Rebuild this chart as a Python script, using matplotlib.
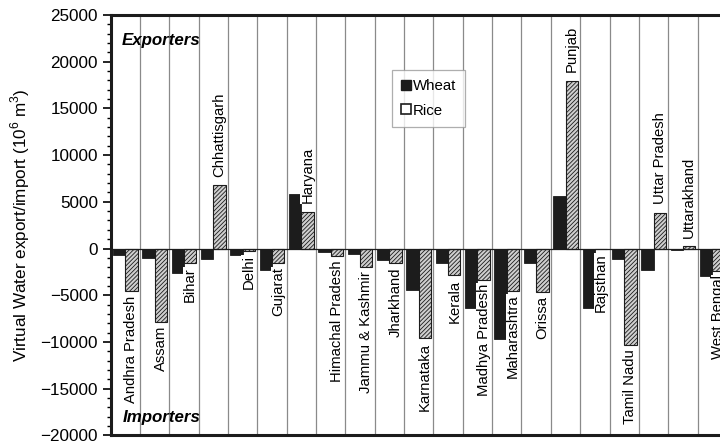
import matplotlib
matplotlib.use('Agg')
import matplotlib.pyplot as plt
from matplotlib.patches import Patch
from matplotlib.ticker import MultipleLocator
import numpy as np

plt.rcParams['font.family'] = ['Liberation Sans', 'DejaVu Sans']
plt.rcParams['mathtext.fontset'] = 'custom'
plt.rcParams['mathtext.rm'] = 'Liberation Sans'
plt.rcParams['hatch.color'] = '#7a7a7a'
plt.rcParams['hatch.linewidth'] = 0.6

# states (spelling as in the original figure)
states = ['Andhra Pradesh', 'Assam', 'Bihar', 'Chhattisgarh', 'Delhi', 'Gujarat',
          'Haryana', 'Himachal Pradesh', 'Jammu & Kashmir', 'Jharkhand', 'Karnataka',
          'Kerala', 'Madhya Pradesh', 'Maharashtra', 'Orissa', 'Punjab', 'Rajsthan',
          'Tamil Nadu', 'Uttar Pradesh', 'Uttarakhand', 'West Bengal']
# virtual water export(+)/import(-), 10^6 m3
wheat = [-720, -1070, -2600, -1100, -700, -2320, 5810, -360, -540, -1180, -4390,
         -1540, -6350, -9740, -1540, 5630, -6350, -1110, -2320, -200, -2960]
rice = [-4570, -7850, -1600, 6800, -250, -1540, 3960, -820, -2000, -1540, -9630,
        -2860, -3320, -4500, -4680, 17980, -100, -10350, 3850, 250, -2430]

x = np.arange(len(states))
w = 0.42

fig = plt.figure(figsize=(7.2, 4.43), dpi=100)
ax = fig.add_axes([0.1535, 0.0174, 1.0097 - 0.1535, 0.9661 - 0.0174])

ax.bar(x - w/2, wheat, w, color='#1c1c1c', edgecolor='#1c1c1c', lw=0.6, zorder=3)
ax.bar(x + w/2, rice, w, color='#cfcfcf', edgecolor='#1c1c1c', lw=0.8,
       hatch='////////', zorder=3)

ax.axhline(0, color='#1c1c1c', lw=0.9, zorder=4)

# state labels at end of rice bars
for xi, v, name in zip(x, rice, states):
    if v >= 0:
        ax.annotate(name, (xi + w/2, v), xytext=(0, 6), textcoords='offset points',
                    rotation=90, ha='center', va='bottom', fontsize=10.7, zorder=5,
                    bbox=dict(facecolor='white', edgecolor='none', pad=0.3))
    else:
        ax.annotate(name, (xi + w/2, v), xytext=(0, -3), textcoords='offset points',
                    rotation=90, ha='center', va='top', fontsize=10.7, zorder=5,
                    bbox=dict(facecolor='white', edgecolor='none', pad=0.3))

ax.set_xlim(-0.5, len(states) - 0.5)
ax.set_ylim(-20000, 25000)
ax.set_xticks(np.arange(len(states) + 1) - 0.5)
ax.set_xticklabels([])
ax.tick_params(axis='x', length=0)
ax.grid(axis='x', color='#8a8a8a', lw=0.9, zorder=0)

ax.yaxis.set_major_locator(MultipleLocator(5000))
ax.yaxis.set_minor_locator(MultipleLocator(1000))
ax.tick_params(axis='y', which='major', length=6, width=1.2, labelsize=12.3, pad=3)
ax.tick_params(axis='y', which='minor', length=3, width=1.0)

for s in ['left', 'top', 'bottom', 'right']:
    ax.spines[s].set_linewidth(2.2)
    ax.spines[s].set_color('#1c1c1c')

ax.set_ylabel('Virtual Water export/import (10$^6$ m$^3$)', fontsize=12.3, labelpad=6)

ax.text(0.018, 0.94, 'Exporters', transform=ax.transAxes, fontsize=12.2,
        fontweight='bold', fontstyle='italic', va='center', ha='left')
ax.text(0.020, 0.043, 'Importers', transform=ax.transAxes, fontsize=12.2,
        fontweight='bold', fontstyle='italic', va='center', ha='left')

handles = [Patch(facecolor='#1c1c1c', edgecolor='#1c1c1c', label='Wheat'),
           Patch(facecolor='white', edgecolor='#1c1c1c', lw=1.2, label='Rice')]
leg = ax.legend(handles=handles, loc='upper left', bbox_to_anchor=(0.4566, 0.869),
                fontsize=10.8, frameon=True, fancybox=False, handlelength=0.65,
                handleheight=0.65, handletextpad=0.15, labelspacing=0.7,
                borderpad=0.6, borderaxespad=0)
leg.get_frame().set_edgecolor('#9a9a9a')
leg.get_frame().set_linewidth(0.9)
leg.set_zorder(6)

fig.savefig('out.png', dpi=100)
